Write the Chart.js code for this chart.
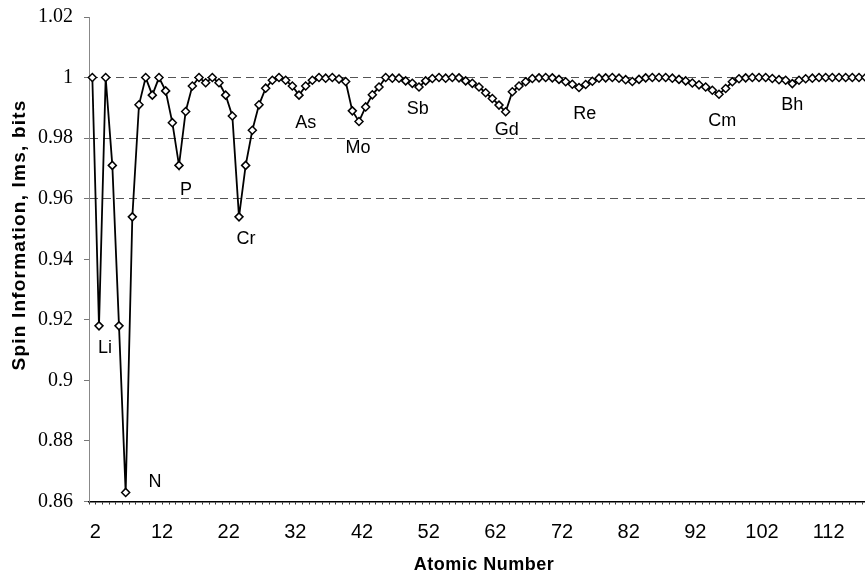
<!DOCTYPE html>
<html>
<head>
<meta charset="utf-8">
<title>Spin Information vs Atomic Number</title>
<script src="https://cdn.jsdelivr.net/npm/chart.js@4/dist/chart.umd.min.js"></script>
<style>
  html, body { margin: 0; padding: 0; background: #fff; overflow: hidden; }
  /* the source figure is cropped a few pixels before its right axis end,
     so the canvas runs 4px past the 865px window */
  #wrap { width: 869px; height: 579px; }
</style>
</head>
<body>
<div id="wrap"><canvas id="chart" width="869" height="579"></canvas></div>
<script>
/* categories: atomic number, He .. Og */
const atomicNumbers = [
  2, 3, 4, 5, 6, 7, 8, 9, 10, 11,
  12, 13, 14, 15, 16, 17, 18, 19, 20, 21,
  22, 23, 24, 25, 26, 27, 28, 29, 30, 31,
  32, 33, 34, 35, 36, 37, 38, 39, 40, 41,
  42, 43, 44, 45, 46, 47, 48, 49, 50, 51,
  52, 53, 54, 55, 56, 57, 58, 59, 60, 61,
  62, 63, 64, 65, 66, 67, 68, 69, 70, 71,
  72, 73, 74, 75, 76, 77, 78, 79, 80, 81,
  82, 83, 84, 85, 86, 87, 88, 89, 90, 91,
  92, 93, 94, 95, 96, 97, 98, 99, 100, 101,
  102, 103, 104, 105, 106, 107, 108, 109, 110, 111,
  112, 113, 114, 115, 116, 117, 118,
];

/* spin information Ims (bits) */
const spinInfo = [
  1.0, 0.918, 1.0, 0.971, 0.918, 0.863, 0.954, 0.991, 1.0, 0.9942,          // 2-11
  1.0, 0.9956, 0.9851, 0.971, 0.9888, 0.9972, 1.0, 0.9983, 1.0, 0.9983,     // 12-21
  0.9942, 0.9873, 0.954, 0.971, 0.9826, 0.991, 0.9965, 0.9991, 1.0, 0.9991, // 22-31
  0.9972, 0.9942, 0.9972, 0.9991, 1.0, 0.9998, 1.0, 0.9995, 0.9987, 0.989,  // 32-41
  0.9855, 0.9903, 0.9943, 0.9969, 1.0, 0.9998, 0.9998, 0.9989, 0.9981, 0.9969, // 42-51
  0.9989, 0.9997, 1.0, 0.9998, 1.0, 0.9999, 0.9989, 0.9981, 0.9969, 0.995,  // 52-61
  0.9931, 0.9909, 0.9887, 0.9953, 0.9972, 0.9986, 0.9997, 0.9999, 1.0, 0.9999, // 62-71
  0.9994, 0.9986, 0.9978, 0.9967, 0.9977, 0.9988, 0.9998, 0.9999, 1.0, 0.9998, // 72-81
  0.9993, 0.9987, 0.9994, 0.9999, 1.0, 1.0, 1.0, 0.9998, 0.9994, 0.9989,    // 82-91
  0.9982, 0.9976, 0.9969, 0.9958, 0.9945, 0.9964, 0.9986, 0.9996, 0.9999, 1.0, // 92-101
  1.0, 1.0, 0.9997, 0.9993, 0.9991, 0.998, 0.9991, 0.9996, 0.9998, 1.0,     // 102-111
  1.0, 1.0, 1.0, 1.0, 1.0, 1.0, 1.0,                                        // 112-118
];

/* y axis ticks and the ones carrying a dashed gridline */
const yTicks = [0.86, 0.88, 0.9, 0.92, 0.94, 0.96, 0.98, 1.0, 1.02];
const dashedAt = [0.96, 0.98, 1.0];

/* element labels placed in the plot (atomic number, Ims) */
const noteText = ["Li", "N", "P", "Cr", "As", "Mo", "Sb", "Gd", "Re", "Cm", "Bh"];
const noteZ = [3.9, 11.4, 16.05, 25.05, 34.0, 41.85, 50.8, 64.15, 75.85, 96.5, 107.0];
const noteIms = [0.9107, 0.8664, 0.9628, 0.9466, 0.9849, 0.9767, 0.9895, 0.9826, 0.9879, 0.9856, 0.9909];

const SANS = "'Liberation Sans', Arial, sans-serif";
const SERIF = "'Liberation Serif', 'Times New Roman', serif";

const near = (a, b) => Math.abs(a - b) < 1e-6;

/* axis titles + element labels */
const extras = {
  id: "extras",
  afterDraw(chart) {
    const { ctx, scales } = chart;
    const x = scales.x, y = scales.y;
    ctx.save();
    ctx.fillStyle = "#000";
    ctx.textAlign = "center";
    ctx.textBaseline = "middle";

    ctx.font = `18px ${SANS}`;
    noteText.forEach((t, i) => {
      const idx = noteZ[i] - atomicNumbers[0];
      ctx.fillText(t, x.getPixelForValue(idx), y.getPixelForValue(noteIms[i]));
    });

    ctx.font = `bold 18px ${SANS}`;
    ctx.letterSpacing = "0.5px";
    ctx.fillText("Atomic Number", 484, 565);

    ctx.translate(20, 235);
    ctx.rotate(-Math.PI / 2);
    ctx.font = `bold 19px ${SANS}`;
    ctx.letterSpacing = "1.2px";
    ctx.fillText("Spin Information, Ims, bits", 0, 0);
    ctx.restore();
  },
};

new Chart(document.getElementById("chart"), {
  type: "line",
  data: {
    labels: atomicNumbers.map(String),
    datasets: [
      {
        data: spinInfo,
        borderColor: "#000",
        borderWidth: 1.8,
        tension: 0,
        pointStyle: "rectRot",
        pointRadius: 4,
        pointBackgroundColor: "#fff",
        pointBorderColor: "#000",
        pointBorderWidth: 1.5,
        clip: false,
      },
    ],
  },
  options: {
    responsive: false,
    animation: false,
    layout: { autoPadding: false, padding: { top: 17, right: 0, left: 0, bottom: 0 } },
    plugins: { legend: { display: false }, tooltip: { enabled: false } },
    scales: {
      x: {
        type: "category",
        offset: true,
        afterFit: (s) => {
          s.height = 77.5;
          s.paddingLeft = 0;
          s.paddingRight = 0;
        },
        grid: { offset: true, drawOnChartArea: false, tickLength: 3, tickColor: "#333" },
        border: { color: "#000", width: 1.5 },
        ticks: {
          autoSkip: false,
          maxRotation: 0,
          padding: 16,
          labelOffset: 3,
          color: "#000",
          font: { family: SANS, size: 20 },
          callback: (v, i) => (i % 10 === 0 ? String(atomicNumbers[i]) : ""),
        },
      },
      y: {
        min: 0.86,
        max: 1.02,
        afterFit: (s) => {
          s.width = 89;
          s.paddingTop = 0;
          s.paddingBottom = 0;
        },
        afterBuildTicks: (s) => { s.ticks = yTicks.map((v) => ({ value: v })); },
        grid: {
          color: (c) => (dashedAt.some((d) => near(d, c.tick.value)) ? "#555" : "rgba(0,0,0,0)"),
          tickColor: "#777",
          tickLength: 5,
          lineWidth: 1,
        },
        border: { color: "#888", width: 1, dash: [8, 5] },
        ticks: {
          padding: 11,
          color: "#000",
          font: { family: SERIF, size: 20 },
          callback: (v) => String(Number(v.toFixed(2))),
        },
      },
    },
  },
  plugins: [extras],
});
</script>
</body>
</html>
